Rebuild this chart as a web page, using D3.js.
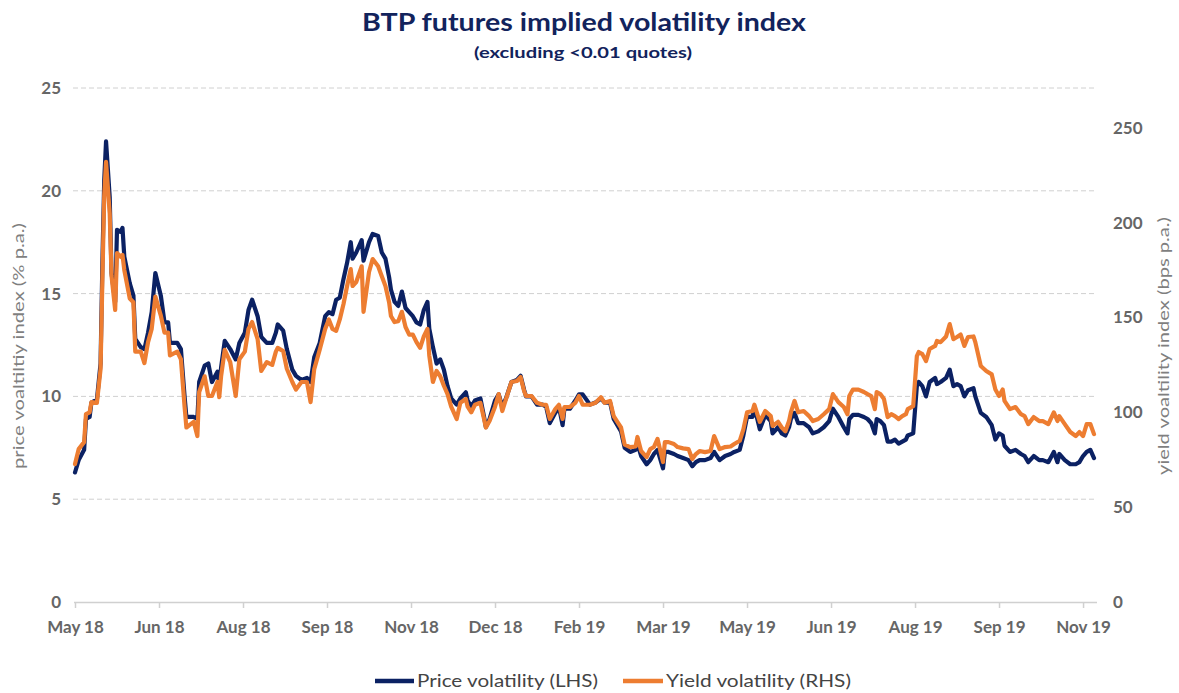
<!DOCTYPE html>
<html>
<head>
<meta charset="utf-8">
<script src="https://cdn.jsdelivr.net/npm/d3@7"></script>
<style>
  body { margin: 0; background: #fff; }
  svg { display: block; }
  text { font-family: Lato, "Open Sans", "DejaVu Sans", sans-serif; }
</style>
</head>
<body>
<svg id="chart" width="1179" height="693"></svg>
<script>
// ---------- DATA ----------
const titleText = "BTP futures implied volatility index";
const subtitleText = "(excluding <0.01 quotes)";
const leftAxisTitle = "price voaltiltiy index (% p.a.)";
const rightAxisTitle = "yield voaltility index (bps p.a.)";
const seriesNames = ["Price volatility (LHS)", "Yield volatility (RHS)"];
const startDateStr = "2018-05-02";
const leftTicks = [0, 5, 10, 15, 20, 25];
const rightTicks = [0, 50, 100, 150, 200, 250];
const dateTickDays = [0, 46, 92, 138, 184, 230, 276, 322, 368, 414, 460, 506, 552];

// days since start date for each observation
const days = [
  0,2,5,6,8,9,12,14,15,16, 17,19,20,22,23,25,26,27,30,32,
  33,36,38,40,42,44,47,49,51,52, 56,58,60,61,65,67,68,71,73,75,
  78,79,80,82,85,88,90,93,95,97, 100,102,105,108,110,111,114,116,119,121,
  124,127,129,131,134,137,139,
  141,143,145,147,149,151,152,154,157,158, 161,163,166,168,170,172,173,175,177,179,
  181,183,185,187,189,191,193,194,196,198, 200,202,204,206,209,211,214,215,217,219,
  222,224,225,227,230,232,234,236,239,242, 244,246,247,250,253,256,258,260,263,265,
  267,268,271,274,276,278,
  282,285,288,290,293,295,297,299,301,304, 307,308,310,313,315,317,319,322,323,325,
  328,330,333,336,338,340,342,345,348,350, 353,356,359,361,364,366,368,371,372,375,
  378,381,382,385,387,389,391,392,394,396, 399,402,404,407,410,413,415,418,
  421,423,424,426,429,432,434,436,438,439, 441,443,445,447,449,451,453,455,456,459,
  461,462,464,466,468,471,472,474,477,479, 481,483,485,487,489,492,493,496,499,502,
  504,506,508,509,512,515,518,520,522,525, 528,530,533,536,538,539,542,545,548,550,
  552,554,556,558
];

// Price volatility (LHS, % p.a.)
const priceVol = [
  6.3,6.9,7.4,8.9,9.0,9.7,9.85,11.6,16.5,20.5, 22.4,19.7,16.0,14.6,18.1,18.0,18.2,16.8,15.5,14.9,
  12.8,12.4,12.3,13.1,14.1,16.0,14.9,13.6,13.6,12.6, 12.6,12.3,10.0,9.0,9.0,8.9,10.7,11.5,11.6,10.7,
  11.2,10.6,11.4,12.7,12.3,11.8,12.6,13.1,14.2,14.7, 13.9,12.9,12.6,12.6,13.1,13.5,13.2,12.3,11.3,11.0,
  10.8,10.9,10.7,11.9,12.6,13.9,14.1,
  14.0,14.7,14.8,15.7,16.5,17.5,16.7,17.0,17.6,16.6, 17.5,17.9,17.8,17.0,16.7,15.8,15.2,14.6,14.4,15.1,
  14.3,14.1,13.9,13.6,13.5,14.2,14.6,13.3,12.4,11.6, 11.8,11.3,10.5,9.9,9.6,9.9,10.2,9.8,9.5,9.8,
  9.9,9.0,8.5,8.9,9.8,10.1,9.5,9.9,10.7,10.8, 11.0,10.3,10.0,10.0,9.6,9.6,9.5,8.7,9.2,9.5,
  8.6,9.4,9.4,9.8,10.1,10.1,
  9.6,9.7,9.9,9.7,9.7,8.9,8.6,8.3,7.5,7.3, 7.4,7.7,7.1,6.7,6.9,7.2,7.4,6.5,7.3,7.3,
  7.2,7.1,7.0,6.9,6.6,6.8,6.9,6.9,7.0,7.3, 6.9,7.1,7.2,7.3,7.4,8.1,9.0,9.0,9.5,8.4,
  9.1,8.8,8.2,8.5,8.2,8.1,8.5,8.9,9.2,8.7, 8.7,8.5,8.2,8.3,8.5,8.8,9.4,9.0,
  8.5,8.2,8.9,9.1,9.1,9.0,8.9,8.7,8.2,8.9, 8.8,8.6,7.8,7.8,7.9,7.7,7.8,7.9,8.1,8.2,
  10.5,10.7,10.5,10.0,10.7,10.9,10.6,10.7,10.9,11.3, 10.5,10.6,10.5,10.0,10.3,10.4,10.0,9.2,9.0,8.6,
  7.9,8.2,8.1,7.6,7.3,7.4,7.2,7.1,6.8,7.1, 6.9,6.9,6.8,7.3,6.8,7.2,6.9,6.7,6.7,6.8,
  7.1,7.3,7.4,7.0
];

// Yield volatility (RHS, bps p.a.)
const yieldVol = [
  72.7,80.6,84.3,99,100,105.4,105,122.8,170,214, 232,205,172,154,184,182,183,175,160,158,
  132,132,126,137,144,161,151,142,142,130, 132,128,103,92,95,87.5,110.7,119,108.6,108.6,
  116,108,119,133,126.5,108.6,128,132,144,147.6, 138.6,121.8,126.5,125,132,134,132.3,123,116,112,
  116,116,105.4,122.8,133,144,149,
  144,143,149,157,166.6,175.5,166.6,168.7,177,153, 174,180.8,177,171.8,166.6,158,150.8,147.6,148,153,
  145,141,141,137,134,140,144,130,116,121.8, 119,114,109.6,103,96.5,105,107,103,100,104,
  105,96.5,92,95.4,103,109.6,100.7,107,116,116.5, 118.6,111,108.6,108.6,105,104,104,96.5,101.7,104,
  96.5,102.8,102.8,105,108.6,104,
  104,105,108,105,106,98,95,92,83,81.7, 82,87,79.6,76.4,80.6,81.7,86,73.8,84.3,84.3,
  83.3,81.7,81,80.6,75.4,78,79.6,79,79.6,87.5, 80.6,81.7,82,83.3,85,91,100,100.7,104,95,
  100.7,98,92.8,95,92,90,95.4,100,106,100, 100.7,98,95.4,96.5,99,101.7,109.6,105.4,
  102.8,99,108.6,112,112,110.7,109.6,108.6,101.7,110.7, 109.6,107,97.5,99,98,96.5,98,99,101.7,103.3,
  129.7,131.8,130.7,127,133.4,135,137.6,137,140,146.5, 138.6,139.7,141,135,139.7,140,137,124.4,121.8,120,
  112,108.6,112,106,101.7,102.8,99,98,93.8,97.5, 95.4,95.4,93.8,100,95.4,98,93.8,89.6,87.5,89.6,
  87.5,93.8,93.8,88.5
];

// ---------- CHART ----------
const plot = { left: 75, right: 1094, top: 88, bottom: 602 };
const navy = "#0b2163", orange = "#ed7d31";
const labelGray = "#666666";

const svg = d3.select("#chart");
const parse = d3.timeParse("%Y-%m-%d");
const start = parse(startDateStr);
const dates = days.map(d => d3.timeDay.offset(start, d));

const x = d3.scaleTime()
  .domain([start, d3.timeDay.offset(start, d3.max(days))])
  .range([plot.left, plot.right]);
const yL = d3.scaleLinear().domain([0, 25]).range([plot.bottom, plot.top]);
const yR = d3.scaleLinear().domain([0, 271]).range([plot.bottom, plot.top]);

function fit(sel, w) {
  sel.attr("textLength", w).attr("lengthAdjust", "spacingAndGlyphs");
}

// Title
svg.append("text").attr("x", 584).attr("y", 31).attr("text-anchor", "middle")
  .attr("font-size", 25).attr("font-weight", "bold").attr("fill", "#12235c")
  .text(titleText).call(fit, 444);
svg.append("text").attr("x", 583).attr("y", 58).attr("text-anchor", "middle")
  .attr("font-size", 16).attr("font-weight", "bold").attr("fill", "#12235c")
  .text(subtitleText).call(fit, 218);

// Gridlines
svg.append("g").selectAll("line")
  .data(leftTicks.filter(t => t > 0))
  .join("line")
  .attr("x1", plot.left - 2).attr("x2", plot.right + 3)
  .attr("y1", d => yL(d)).attr("y2", d => yL(d))
  .attr("stroke", "#d0d0d0").attr("stroke-width", 1)
  .attr("stroke-dasharray", "5,3");

// Bottom axis
const xAxis = d3.axisBottom(x)
  .tickValues(dateTickDays.map(d => d3.timeDay.offset(start, d)))
  .tickFormat(d3.timeFormat("%b %y"))
  .tickSize(6).tickPadding(13);
const gx = svg.append("g").attr("transform", `translate(0,${plot.bottom})`).call(xAxis);
gx.select(".domain").attr("d", `M${plot.left - 1},0.5H${plot.right + 3}`).attr("stroke", "#d0d0d0").attr("stroke-width", 1.5);
gx.selectAll(".tick line").attr("stroke", "#d0d0d0").attr("stroke-width", 1.5);
gx.selectAll(".tick text").attr("font-size", 17).attr("font-weight", "bold")
  .attr("fill", labelGray).attr("font-family", 'Lato, "Open Sans", sans-serif');

// Left axis
const gl = svg.append("g").attr("transform", `translate(${plot.left - 14},0)`)
  .call(d3.axisLeft(yL).tickValues(leftTicks).tickSize(0).tickPadding(0));
gl.select(".domain").remove();
gl.selectAll(".tick text").attr("font-size", 17).attr("font-weight", "bold")
  .attr("fill", labelGray).attr("font-family", 'Lato, "Open Sans", sans-serif');

// Right axis
const gr = svg.append("g").attr("transform", `translate(${plot.right + 19},0)`)
  .call(d3.axisRight(yR).tickValues(rightTicks).tickSize(0).tickPadding(0));
gr.select(".domain").remove();
gr.selectAll(".tick text").attr("font-size", 17).attr("font-weight", "bold")
  .attr("fill", labelGray).attr("font-family", 'Lato, "Open Sans", sans-serif');

// Axis titles
svg.append("text").attr("transform", "translate(24,346) rotate(-90)")
  .attr("text-anchor", "middle").attr("font-size", 16).attr("fill", "#7f7f7f")
  .text(leftAxisTitle).call(fit, 246);
svg.append("text").attr("transform", "translate(1169,346) rotate(-90)")
  .attr("text-anchor", "middle").attr("font-size", 16).attr("fill", "#7f7f7f")
  .text(rightAxisTitle).call(fit, 258);

// Lines
const idx = d3.range(days.length);
const linePrice = d3.line().x(i => x(dates[i])).y(i => yL(priceVol[i]));
const lineYield = d3.line().x(i => x(dates[i])).y(i => yR(yieldVol[i]));

svg.append("path").datum(idx).attr("d", linePrice)
  .attr("fill", "none").attr("stroke", navy).attr("stroke-width", 4.2)
  .attr("stroke-linejoin", "round").attr("stroke-linecap", "round");
svg.append("path").datum(idx).attr("d", lineYield)
  .attr("fill", "none").attr("stroke", orange).attr("stroke-width", 4.2)
  .attr("stroke-linejoin", "round").attr("stroke-linecap", "round");

// Legend
const legend = [
  { name: seriesNames[0], color: navy, x1: 375, x2: 414, tx: 417, tw: 181 },
  { name: seriesNames[1], color: orange, x1: 623, x2: 663, tx: 666, tw: 185 }
];
const lg = svg.append("g");
legend.forEach(l => {
  lg.append("line").attr("x1", l.x1).attr("x2", l.x2).attr("y1", 681).attr("y2", 681)
    .attr("stroke", l.color).attr("stroke-width", 4.5);
  lg.append("text").attr("x", l.tx).attr("y", 687).attr("font-size", 17)
    .attr("fill", "#444").text(l.name).call(fit, l.tw);
});
</script>
</body>
</html>
